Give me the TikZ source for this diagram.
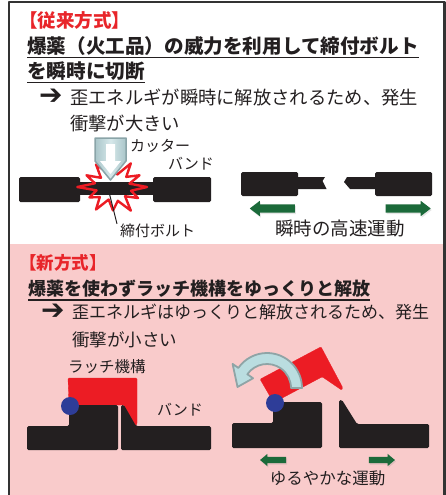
\documentclass[tikz,border=0pt]{standalone}
\usepackage{fontspec}
\setmainfont{Noto Sans CJK JP}
\newfontfamily\dejavu{DejaVu Sans}
\usepackage{tikz}
\usetikzlibrary{shapes,positioning,calc,arrows,shadows}

\definecolor{bandblack}{HTML}{231F20}
\definecolor{titlered}{HTML}{E8252A}
\definecolor{latchred}{HTML}{EC1C24}
\definecolor{pinkbg}{HTML}{F9CBCB}
\definecolor{pinblue}{HTML}{2E3D98}
\definecolor{movegreen}{HTML}{1B6A3A}
\definecolor{cutfill}{HTML}{A9C5C9}
\definecolor{cutlight}{HTML}{D6E8EA}
\definecolor{cutedge}{HTML}{8AA4A8}
\definecolor{swingfill}{HTML}{BADDE0}
\definecolor{swingedge}{HTML}{8FA4A6}

% red latch, origin at the pin
\newcommand{\latch}{
	\filldraw[latch_body] (-2,-28) -- (67,-28) -- (67,18) -- (65,20) -- (54,-1) -- (-1,-1) -- cycle;
}

\begin{document}
\begin{tikzpicture}[x=1pt,y=-1pt,line join=round]
		\tikzstyle{band}=[fill=bandblack, rounded corners=1.5];
		\tikzstyle{latch_body}=[fill=latchred, draw=latchred, line width=0.3, rounded corners=1];
		\tikzstyle{pin}=[circle, fill=pinblue, minimum size=18, inner sep=0];
		\tikzstyle{txt}=[inner sep=0, anchor=west, text=bandblack];
		\tikzstyle{bullet_arrow}=[inner sep=0, anchor=west, text=bandblack, font=\dejavu\fontsize{28}{28}\selectfont];
		\tikzstyle{uline}=[line width=1.4, draw=bandblack];
		\tikzstyle{boom}=[draw=latchred, line width=2.4];
		\tikzstyle{move_big}=[single arrow, fill=movegreen, inner xsep=0, inner ysep=4, minimum height=45, single arrow head extend=3.5, single arrow tip angle=75, drop shadow={shadow xshift=1pt, shadow yshift=-1.5pt, opacity=0.2}];
		\tikzstyle{move_small}=[single arrow, fill=movegreen, inner xsep=0, inner ysep=3, minimum height=26, single arrow head extend=3, single arrow tip angle=80, drop shadow={shadow xshift=1pt, shadow yshift=-1.5pt, opacity=0.2}];
		\tikzstyle{swing}=[fill=swingfill, draw=swingedge, line width=1.8];
		
		\path[use as bounding box] (0,0) rectangle (446,495);
		
		% frame and the pink lower half
		\begin{scope}
			\clip (0,0) rectangle (446,495);
			\fill[pinkbg] (9,244) rectangle (444,500);
			\draw[line width=2.2, draw=black!80] (9,2) rectangle (444.5,520);
		\end{scope}
		
		% ---- old method ----
		\node[txt, text=titlered, font=\bfseries\fontsize{18.5}{18.5}\selectfont] (old_title) at (19,20) {【従来方式】};
		\node[txt, font=\bfseries\fontsize{19.6}{19.6}\selectfont] (old_head_a) at (27,46) {爆薬（火工品）の威力を利用して締付ボルト};
		\node[txt, font=\bfseries\fontsize{19.6}{19.6}\selectfont] (old_head_b) at (27,71) {を瞬時に切断};
		\draw[uline] ([yshift=-2pt]old_head_a.south west) -- ([yshift=-2pt]old_head_a.south east);
		\draw[uline] ([yshift=-2pt]old_head_b.south west) -- ([yshift=-2pt]old_head_b.south east);
		\node[bullet_arrow] (old_mark) at (39,97) {➔};
		\node[txt, font=\fontsize{18.3}{18.3}\selectfont] (old_note_a) at (70,97) {歪エネルギが瞬時に解放されるため、発生};
		\node[txt, font=\fontsize{18.3}{18.3}\selectfont] (old_note_b) at (70,123) {衝撃が大きい};
		
		% band with the bolt before cutting
		\fill[band] (19,177) rectangle (80,202);
		\fill[bandblack] (78,182) rectangle (155,195);
		\fill[band] (153,177) rectangle (211,202);
		\begin{scope}[shift={(113,187)}]
			\draw[boom] (0:34 and 26) \foreach \a/\f in {15/.55,30/.85,45/.5,60/1.05,75/.55,90/.9,105/.5,120/1,135/.55,150/.8,165/.5,180/1.05,195/.55,210/.9,225/.5,240/1,255/.55,270/.85,285/.5,300/1.05,315/.55,330/.9,345/.5}{ -- (\a:{34*\f} and {26*\f}) } -- cycle;
		\end{scope}
		% cutter
		\shadedraw[left color=cutfill, right color=cutfill, middle color=cutlight, draw=cutedge, line width=1.5] (95,138) -- (126,138) -- (126,161) -- (110.5,180) -- (95,161) -- cycle;
		\fill[white] (106,144) -- (115,144) -- (115,161) -- (121,161) -- (110.5,174) -- (100,161) -- (106,161) -- cycle;
		\coordinate (bolt_pt) at (109,192);
		\node[txt, font=\fontsize{15}{15}\selectfont] (cutter_lbl) at (130,146) {カッター};
		\node[txt, font=\fontsize{15}{15}\selectfont] (band_lbl_a) at (168,164) {バンド};
		\node[txt, font=\fontsize{15}{15}\selectfont] (bolt_lbl) at (120,231) {締付ボルト};
		\draw[line width=1, bandblack] (bolt_pt) -- ([xshift=-3pt]bolt_lbl.north west);
		
		% band after cutting
		\fill[band] (241,172) rectangle (298,196);
		\fill[bandblack] (296,177) -- (325,177) -- (322.5,181) -- (326.5,189) -- (296,189) -- cycle;
		\fill[bandblack] (347,177) -- (377,177) -- (377,189) -- (350,189) -- (344,182) -- cycle;
		\fill[band] (375,172) rectangle (432,196);
		\node[move_big, shape border rotate=180] (fast_l) at (275,208.5) {};
		\node[move_big] (fast_r) at (405.5,208.5) {};
		\node[txt, anchor=center, font=\fontsize{18.5}{18.5}\selectfont] (fast_lbl) at (340,229) {瞬時の高速運動};
		
		% ---- new method ----
		\node[txt, text=titlered, font=\bfseries\fontsize{17.5}{17.5}\selectfont] (new_title) at (19,263) {【新方式】};
		\node[txt, font=\bfseries\fontsize{18}{18}\selectfont] (new_head) at (28,289) {爆薬を使わずラッチ機構をゆっくりと解放};
		\draw[uline] ([yshift=-2pt]new_head.south west) -- ([yshift=-2pt]new_head.south east);
		\node[bullet_arrow] (new_mark) at (41,312) {➔};
		\node[txt, font=\fontsize{17}{17}\selectfont] (new_note_a) at (72,312) {歪エネルギはゆっくりと解放されるため、発生};
		\node[txt, font=\fontsize{17.5}{17.5}\selectfont] (new_note_b) at (72,340) {衝撃が小さい};
		
		% latched band
		\begin{scope}[shift={(70,406)}]
			\latch
		\end{scope}
		\fill[band] (27,426) -- (69,426) -- (69,405) -- (118,405) -- (118,450) -- (27,450) -- cycle;
		\fill[band] (121,405) -- (124,405) -- (136,426) -- (211,426) -- (211,450) -- (121,450) -- cycle;
		\node[pin] (pin_a) at (70,406) {};
		\node[txt, font=\fontsize{15.5}{15.5}\selectfont] (latch_lbl) at (68,367) {ラッチ機構};
		\node[txt, font=\fontsize{15}{15}\selectfont] (band_lbl_b) at (157,410) {バンド};
		
		% released band
		\begin{scope}[shift={(275,403)}, rotate=28]
			\latch
		\end{scope}
		\fill[band] (232,423) -- (273,423) -- (273,402) -- (322,402) -- (322,448) -- (232,448) -- cycle;
		\fill[band] (339,400) -- (342,400) -- (357,424) -- (429,424) -- (429,448) -- (339,448) -- cycle;
		\coordinate (swing_c) at (267,388);
		\draw[swing] ($(swing_c)+(0:35)$) arc[start angle=0, end angle=-145, radius=35] -- ($(swing_c)+(-145:42)$) -- ($(swing_c)+(-178:29.5)$) -- ($(swing_c)+(-145:17)$) -- ($(swing_c)+(-145:24)$) arc[start angle=-145, end angle=0, radius=24] -- cycle;
		\node[pin] (pin_b) at (275,403) {};
		\node[move_small, shape border rotate=180] (slow_l) at (275,460) {};
		\node[move_small] (slow_r) at (380,460) {};
		\node[txt, anchor=center, font=\fontsize{16.5}{16.5}\selectfont] (slow_lbl) at (327.5,478) {ゆるやかな運動};
	\end{tikzpicture}
\end{document}
